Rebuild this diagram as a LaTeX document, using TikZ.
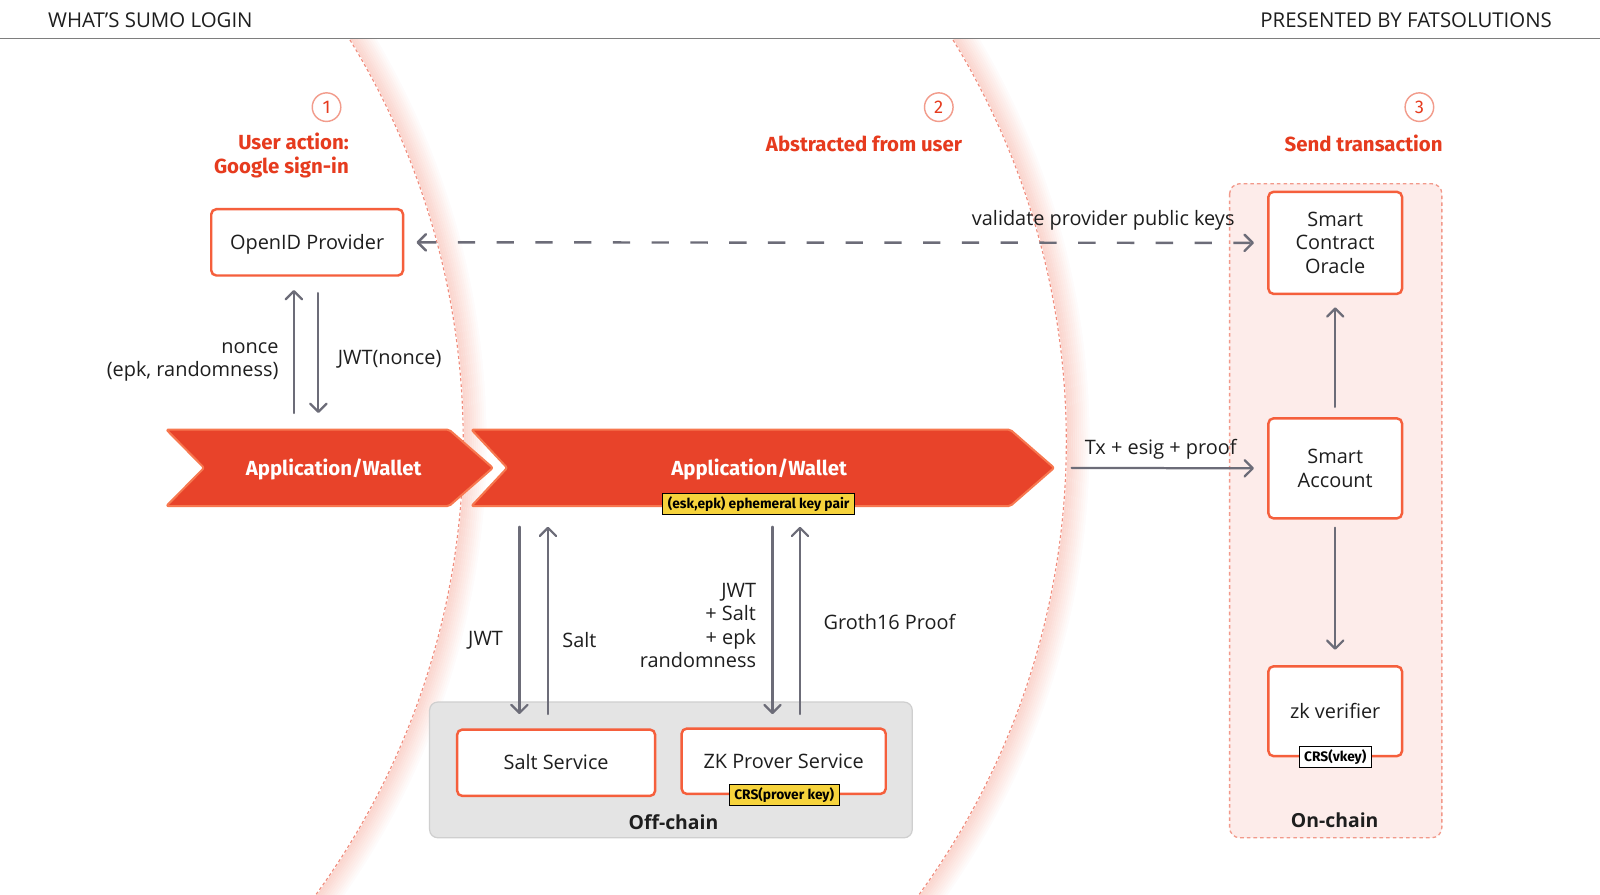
\documentclass[tikz,border=0pt]{standalone}
\usepackage{fontspec}
\setmainfont{Open Sans}
\newfontfamily\condfont{Fira Sans}
\usepackage{xcolor}
\usepackage{tikz}
\usetikzlibrary{arrows.meta,calc}
\definecolor{ink}{HTML}{1E1E1E}
\definecolor{rulegray}{HTML}{7E7E7E}
\definecolor{accent}{HTML}{E63B1E}
\definecolor{edge}{HTML}{F55F3C}
\definecolor{chevfill}{HTML}{E8432A}
\definecolor{chevedge}{HTML}{F7774F}
\definecolor{wire}{HTML}{6C6C78}
\definecolor{arcline}{HTML}{F08C7C}
\definecolor{glow}{HTML}{FAD0C8}
\definecolor{onfill}{HTML}{FDECEA}
\definecolor{onedge}{HTML}{F2998A}
\definecolor{offfill}{HTML}{E4E4E4}
\definecolor{offedge}{HTML}{CFCFCF}
\definecolor{keyyellow}{HTML}{F6D33C}
\definecolor{badgeedge}{HTML}{F29C8C}
\tikzset{
  head/.style={text=ink, font=\fontsize{20}{22}\selectfont, inner sep=0pt},
  topline/.style={draw=rulegray, line width=1.2pt},
  bound/.style={draw=arcline, line width=1.1pt, dash pattern=on 3pt off 2.5pt},
  onchain/.style={fill=onfill, draw=onedge, line width=1.3pt, dash pattern=on 3.5pt off 3pt, rounded corners=10pt},
  offchain/.style={fill=offfill, draw=offedge, line width=1.2pt, rounded corners=8pt},
  regionlab/.style={text=ink, font=\bfseries\fontsize{19}{22}\selectfont},
  chev/.style={fill=chevfill, draw=chevedge, line width=2pt, line join=round, rounded corners=2pt},
  chevtxt/.style={text=white, font=\condfont\bfseries\fontsize{20}{23}\selectfont, minimum height=75pt, inner sep=0pt, text height=15pt, text depth=0pt},
  box/.style={draw=edge, fill=white, line width=2.4pt, rounded corners=5pt, align=center, text=ink, font=\fontsize{19.5}{23}\selectfont},
  onebox/.style={box, text height=14pt, text depth=0pt},
  ytag/.style={draw=black, fill=keyyellow, line width=0.8pt, inner xsep=5pt, inner ysep=3pt, font=\condfont\bfseries\fontsize{13.5}{15}\selectfont},
  wtag/.style={ytag, fill=white},
  badge/.style={circle, draw=badgeedge, line width=1.4pt, minimum size=28pt, inner sep=0pt, text=accent, font=\condfont\fontsize{18}{18}\selectfont},
  phase/.style={text=accent, align=right, inner sep=0pt, font=\condfont\bfseries\fontsize{20}{23}\selectfont},
  lab/.style={text=ink, inner sep=2pt, font=\fontsize{19.5}{23}\selectfont},
  arr/.style={draw=wire, line width=2.2pt, line cap=round, -{Straight Barb[length=8pt,width=16pt,round]}},
  dasharr/.style={draw=wire, line width=2.4pt, dash pattern=on 17pt off 21pt, {Straight Barb[length=8pt,width=16pt,round]}-{Straight Barb[length=8pt,width=16pt,round]}},
}
\begin{document}
\begin{tikzpicture}[x=1pt,y=-1pt]
  \useasboundingbox[fill=white] (0,0) rectangle (1568,877);
  \def\R{754}
  \node[head, anchor=west] (hleft) at (47,20) {WHAT’S SUMO LOGIN};
  \node[head, anchor=east] (hright) at (1521,20) {PRESENTED BY FATSOLUTIONS};
  \draw[topline] (0,38) -- (1568,38);
  % phase boundaries
  \begin{scope}
    \clip (0,39) rectangle (1568,877);
    \foreach \cx in {-300,291}{
      \foreach \i in {1,...,12}{
        \pgfmathtruncatemacro\pct{96-8*\i}
        \draw[glow!\pct!white, line width=2.3pt] (\cx,433) ++(-34:{\R+2*\i}) arc[start angle=-34, end angle=40, radius={\R+2*\i}];
      }
      \draw[bound] (\cx,433) ++(-34:\R) arc[start angle=-34, end angle=40, radius=\R];
    }
  \end{scope}
  \draw[onchain] (1205,180) rectangle (1413,821);
  \draw[offchain] (421,688) rectangle (894,821);
  \node[regionlab] (onlab) at (1308,804) {On-chain};
  \node[regionlab] (offlab) at (660,806) {Off-chain};
  \node[badge] (b1) at (320,105) {1};
  \node[badge] (b2) at (920,105) {2};
  \node[badge] (b3) at (1391,105) {3};
  \node[phase, anchor=east] (t1) at (342,152.5) {User action:\\Google sign-in};
  \node[phase, anchor=east] (t2) at (943,141) {Abstracted from user};
  \node[phase, anchor=east] (t3) at (1414,141) {Send transaction};
  \draw[chev] (163,421) -- (440,421) -- (483,458.5) -- (440,496) -- (163,496) -- (200,458.5) -- cycle;
  \draw[chev] (462,421) -- (990,421) -- (1033,458.5) -- (990,496) -- (462,496) -- (497,458.5) -- cycle;
  \node[chevtxt, minimum width=312pt] (app1) at (327,458.5) {Application/Wallet};
  \node[chevtxt, minimum width=578pt] (app2) at (744,458.5) {Application/Wallet};
  \node[ytag] (keypair) at (743.5,494) {(esk,epk) ephemeral key pair};
  \node[onebox, minimum width=188pt, minimum height=65pt] (openid) at (301,237.5) {OpenID Provider};
  \node[box, minimum width=131pt, minimum height=100pt] (oracle) at (1308.5,238) {Smart\\Contract\\Oracle};
  \node[box, minimum width=131pt, minimum height=98pt] (account) at (1308.5,459) {Smart\\Account};
  \node[onebox, minimum width=131pt, minimum height=88pt] (verifier) at (1308.5,697) {zk verifier};
  \node[onebox, minimum width=194pt, minimum height=65pt] (salt) at (545,747.5) {Salt Service};
  \node[onebox, minimum width=200pt, minimum height=64pt] (zk) at (768,746) {ZK Prover Service};
  \node[ytag] (pkey) at (768.5,779) {CRS(prover key)};
  \node[wtag] (vkey) at (1308.5,741.5) {CRS(vkey)};
  \draw[arr, shorten <=16pt, shorten >=13pt] ([xshift=-13]openid.south |- app1.north) -- ([xshift=-13]openid.south)
    node[lab, pos=0.44, left=12pt, align=right] {nonce\\(epk, randomness)};
  \draw[arr, shorten <=16pt, shorten >=16pt] ([xshift=11]openid.south) -- ([xshift=11]openid.south |- app1.north)
    node[lab, pos=0.54, right=16pt] {JWT(nonce)};
  \draw[dasharr, shorten <=12pt, shorten >=13pt] (openid.east) -- (oracle.west)
    node[lab, pos=0.81, above=9pt] {validate provider public keys};
  \draw[arr, shorten <=20pt, shorten >=14pt] ([xshift=-36]salt.north |- app2.south) -- ([xshift=-36]salt.north)
    node[lab, pos=0.605, left=13pt] {JWT};
  \draw[arr, shorten <=14pt, shorten >=20pt] ([xshift=-8]salt.north) -- ([xshift=-8]salt.north |- app2.south)
    node[lab, pos=0.40, right=11pt] {Salt};
  \draw[arr, shorten <=20pt, shorten >=13pt] ([xshift=-11]zk.north |- app2.south) -- ([xshift=-11]zk.north)
    node[lab, pos=0.54, left=13pt, align=right] {JWT\\+ Salt\\+ epk\\randomness};
  \draw[arr, shorten <=13pt, shorten >=20pt] ([xshift=16]zk.north) -- ([xshift=16]zk.north |- app2.south)
    node[lab, pos=0.475, right=20pt] {Groth16 Proof};
  \draw[arr, shorten <=17pt, shorten >=13pt] (app2.east) -- (account.west)
    node[lab, midway, above=6pt] {Tx + esig + proof};
  \draw[arr, shorten <=10pt, shorten >=12pt] (account.north) -- (oracle.south);
  \draw[arr, shorten <=8pt, shorten >=15pt] (account.south) -- (verifier.north);
\end{tikzpicture}
\end{document}
